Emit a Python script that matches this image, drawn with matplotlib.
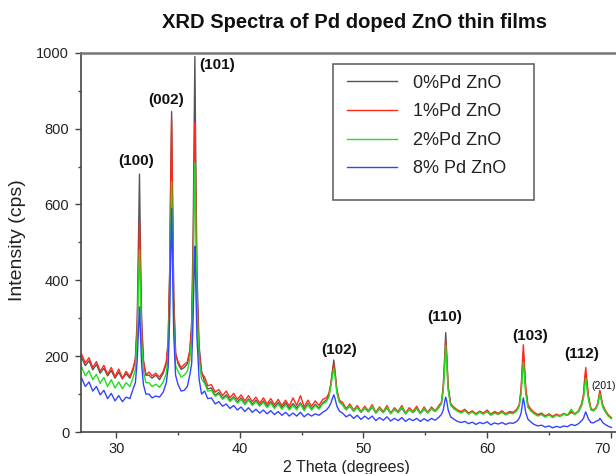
import matplotlib
matplotlib.use("Agg")
import matplotlib.pyplot as plt
from matplotlib.patches import Rectangle
from matplotlib.ticker import MultipleLocator

plt.rcParams['font.family'] = ['Liberation Sans', 'DejaVu Sans']

# 2 theta sampling positions (denser around each reflection)
two_theta = [
    27.2, 27.5, 27.8, 28.1, 28.4, 28.7, 29.0, 29.3, 29.6, 29.9, 30.2, 30.5, 30.8, 31.1, 31.35,
    31.55, 31.7, 31.8, 31.88, 31.96, 32.05, 32.2, 32.4,
    32.65, 32.9, 33.2, 33.5, 33.8, 34.05,
    34.2, 34.32, 34.4, 34.48, 34.56, 34.65, 34.8,
    35.0, 35.25, 35.5, 35.75, 35.95,
    36.1, 36.22, 36.3, 36.36, 36.44, 36.53, 36.7, 36.9,
    37.15, 37.4, 37.7, 38.0, 38.3, 38.6, 38.9, 39.2, 39.5, 39.8,
    40.1, 40.4, 40.7, 41.0, 41.3, 41.6, 41.9, 42.2, 42.5, 42.8,
    43.1, 43.4, 43.7, 44.0, 44.3, 44.6, 44.9, 45.2, 45.5, 45.8,
    46.1, 46.4, 46.7, 47.0, 47.2,
    47.35, 47.5, 47.6, 47.7, 47.85, 48.05,
    48.3, 48.6, 48.9, 49.2, 49.5, 49.8, 50.1, 50.4, 50.7, 51.0,
    51.3, 51.6, 51.9, 52.2, 52.5, 52.8, 53.1, 53.4, 53.7, 54.0,
    54.3, 54.6, 54.9, 55.2, 55.5, 55.8, 56.1, 56.3,
    56.45, 56.57, 56.65, 56.73, 56.85, 57.05,
    57.3, 57.6, 57.9, 58.2, 58.5, 58.8, 59.1, 59.4, 59.7, 60.0,
    60.3, 60.6, 60.9, 61.2, 61.5, 61.8, 62.1, 62.4, 62.6,
    62.75, 62.85, 62.93, 63.01, 63.12, 63.3,
    63.55, 63.8, 64.1, 64.4, 64.7, 65.0, 65.3, 65.6, 65.9, 66.2,
    66.5, 66.8, 67.1, 67.4, 67.65,
    67.8, 67.9, 67.98, 68.06, 68.2, 68.4,
    68.6, 68.8, 68.95,
    69.05, 69.12, 69.2, 69.35,
    69.55, 69.8, 70.05,
]

# intensities (cps)
pd0 = [
    196, 175, 188, 164, 178, 155, 168, 148, 162, 142, 158, 140, 154, 142, 162,
    195, 300, 520, 680, 480, 300, 190, 150,
    150, 142, 150, 138, 155, 180,
    240, 420, 650, 845, 600, 360, 210,
    180, 165, 170, 180, 210,
    290, 520, 800, 990, 700, 420, 230, 160,
    132, 114, 116, 97, 104, 89, 98, 83, 93, 79,
    90, 75, 87, 73, 84, 70, 82, 68, 80, 66,
    78, 64, 77, 62, 75, 63, 77, 60, 75, 61,
    73, 63, 77, 84, 96,
    125, 165, 190, 160, 110, 82,
    72, 59, 68, 55, 65, 52, 63, 53, 66, 50,
    61, 51, 64, 49, 60, 51, 63, 48, 60, 51,
    62, 49, 60, 51, 61, 54, 65, 75,
    120, 200, 262, 210, 120, 75,
    62, 56, 52, 57, 49, 54, 47, 53, 48, 55,
    46, 52, 48, 53, 47, 52, 50, 58, 70,
    108, 165, 210, 170, 112, 68,
    56, 50, 44, 48, 41, 46, 40, 45, 42, 47,
    44, 52, 47, 54, 72,
    95, 135, 155, 130, 90, 60,
    56, 62, 74,
    90, 102, 92, 68,
    55, 44, 36,
]
pd1 = [
    205, 182, 196, 170, 186, 160, 176, 152, 170, 146, 166, 142, 160, 146, 168,
    190, 280, 440, 555, 420, 280, 185, 150,
    158, 148, 155, 145, 160, 185,
    235, 410, 640, 825, 590, 350, 205,
    185, 170, 178, 185, 215,
    270, 450, 680, 815, 600, 370, 215, 155,
    145, 122, 125, 105, 112, 96, 108, 90, 102, 86,
    98, 82, 96, 80, 92, 76, 90, 74, 88, 72,
    86, 70, 84, 68, 90, 70, 96, 66, 84, 68,
    82, 70, 86, 90, 102,
    125, 160, 178, 155, 108, 84,
    78, 62, 74, 58, 70, 54, 68, 56, 72, 52,
    66, 54, 70, 50, 64, 54, 70, 50, 64, 54,
    68, 50, 66, 52, 66, 56, 70, 78,
    115, 185, 240, 195, 115, 74,
    66, 58, 54, 60, 50, 56, 48, 55, 50, 58,
    47, 54, 49, 56, 48, 54, 52, 60, 72,
    115, 180, 230, 185, 120, 72,
    60, 52, 46, 50, 42, 48, 41, 47, 43, 49,
    45, 55, 48, 56, 75,
    100, 145, 170, 140, 95, 62,
    58, 64, 76,
    95, 110, 98, 72,
    58, 45, 38,
]
pd2 = [
    172, 148, 162, 138, 152, 128, 144, 120, 138, 116, 132, 114, 130, 120, 142,
    165, 250, 390, 480, 360, 240, 160, 130,
    130, 120, 126, 118, 132, 155,
    200, 340, 520, 660, 480, 290, 175,
    160, 145, 150, 160, 190,
    245, 400, 590, 710, 530, 330, 195, 140,
    128, 108, 110, 94, 100, 86, 94, 80, 90, 76,
    86, 72, 84, 70, 80, 68, 78, 64, 76, 62,
    74, 60, 72, 58, 70, 58, 74, 56, 72, 58,
    70, 60, 74, 80, 92,
    118, 150, 168, 145, 102, 78,
    72, 58, 70, 55, 66, 52, 64, 54, 68, 50,
    62, 52, 66, 48, 60, 52, 66, 48, 60, 52,
    62, 48, 62, 50, 62, 54, 66, 74,
    108, 175, 228, 185, 110, 70,
    62, 55, 50, 56, 47, 53, 45, 52, 47, 54,
    44, 50, 46, 52, 45, 50, 48, 56, 68,
    100, 148, 185, 152, 102, 65,
    55, 48, 42, 46, 39, 45, 38, 44, 41, 47,
    44, 60, 46, 54, 70,
    90, 122, 142, 120, 85, 58,
    56, 62, 72,
    90, 100, 90, 66,
    54, 42, 35,
]
pd8 = [
    142, 120, 132, 108, 120, 98, 110, 88, 102, 82, 96, 80, 92, 88, 112,
    130, 190, 270, 330, 260, 180, 125, 100,
    100, 90, 95, 92, 105, 130,
    170, 300, 460, 590, 430, 260, 150,
    125, 108, 110, 120, 150,
    180, 300, 420, 490, 380, 250, 140, 100,
    108, 88, 90, 74, 80, 68, 74, 62, 70, 58,
    66, 54, 64, 52, 60, 50, 58, 48, 56, 46,
    54, 44, 52, 42, 50, 42, 52, 40, 48, 42,
    48, 44, 52, 58, 66,
    75, 90, 98, 88, 68, 55,
    50, 40, 46, 36, 44, 33, 42, 34, 42, 30,
    38, 31, 40, 29, 36, 30, 38, 28, 35, 30,
    36, 28, 35, 29, 36, 31, 39, 46,
    58, 80, 92, 82, 58, 40,
    34, 28, 25, 28, 22, 26, 20, 25, 22, 27,
    19, 24, 21, 25, 20, 24, 23, 28, 36,
    50, 72, 90, 76, 52, 34,
    26, 20, 16, 18, 13, 16, 11, 15, 12, 16,
    14, 20, 17, 22, 30,
    36, 47, 53, 46, 34, 25,
    24, 28, 30,
    32, 36, 33, 25,
    20, 15, 12,
]

series_labels = ["0%Pd ZnO", "1%Pd ZnO", "2%Pd ZnO", "8% Pd ZnO"]
series_colors = ["#555555", "#ff2a1a", "#22dd22", "#3344ff"]

# Miller index labels and where they sit (2theta, intensity)
hkl_labels = ["(100)", "(002)", "(101)", "(102)", "(110)", "(103)", "(112)", "(201)"]
hkl_x = [31.63, 34.0, 38.2, 48.0, 56.57, 63.5, 67.66, 69.45]
hkl_y = [715, 876, 968, 216, 303, 253, 206, 121]

fig = plt.figure(figsize=(6.16, 4.74), dpi=100)
ax = fig.add_axes([0.1315, 0.0886, 0.875, 0.8])

for vals, lab, col in zip([pd0, pd1, pd2, pd8], series_labels, series_colors):
    ax.plot(two_theta, vals, color=col, lw=1.0, label=lab)

for lab, hx, hy in zip(hkl_labels, hkl_x, hkl_y):
    small = lab == "(201)"
    ax.text(hx, hy, lab, ha="center", va="center", color="#111111",
            fontsize=7.5 if small else 11, fontweight="normal" if small else "bold")

ax.set_xlim(27.15, 70.75)
ax.set_ylim(0, 1000)
ax.set_xticks([30, 40, 50, 60, 70])
ax.xaxis.set_minor_locator(MultipleLocator(5))
ax.yaxis.set_major_locator(MultipleLocator(200))
ax.yaxis.set_minor_locator(MultipleLocator(100))
ax.tick_params(which="major", direction="out", length=4, width=1, color="#444444",
               labelsize=10.5, labelcolor="#222222", pad=3)
ax.tick_params(which="minor", direction="out", length=2.5, width=1, color="#444444")
ax.tick_params(axis="y", which="major", pad=4.5)

for side in ["left", "bottom"]:
    ax.spines[side].set_color("#444444")
    ax.spines[side].set_linewidth(1.2)
ax.spines["top"].set_color("#777777")
ax.spines["top"].set_linewidth(1.8)
ax.spines["right"].set_visible(False)

# the "70" label sits just left of its tick, as in the original
for t in ax.get_xticklabels():
    if t.get_text() == "70":
        t.set_horizontalalignment("right")
        t.set_x(70.15)

# legend frame is taller than the entries, so draw it separately
ax.add_patch(Rectangle((0.467, 0.612), 0.374, 0.359, transform=ax.transAxes,
                       fill=False, edgecolor="#666666", lw=1.2, zorder=5))
ax.legend(loc="upper left", bbox_to_anchor=(0.4636, 0.985), frameon=False,
          fontsize=13, handlelength=2.75, handletextpad=0.9, labelspacing=0.64,
          labelcolor="#222222")

fig.text(0.576, 0.953, "XRD Spectra of Pd doped ZnO thin films", ha="center", va="center",
         fontsize=14.5, fontweight="bold", color="#111111")
fig.text(0.028, 0.494, "Intensity (cps)", rotation=90, ha="center", va="center",
         fontsize=14, color="#222222")
fig.text(0.563, 0.014, "2 Theta (degrees)", ha="center", va="center",
         fontsize=11.5, color="#222222")

plt.savefig("out.png", dpi=100)
